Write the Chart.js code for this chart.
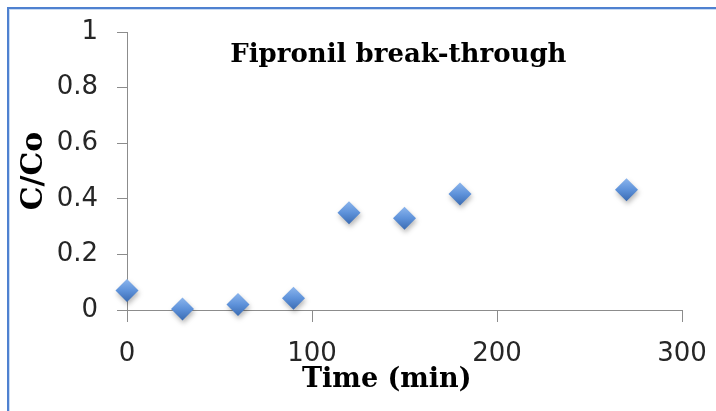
<!DOCTYPE html>
<html>
<head>
<meta charset="utf-8">
<script src="https://cdn.jsdelivr.net/npm/chart.js@4/dist/chart.umd.min.js"></script>
<style>
  html, body { margin: 0; padding: 0; background: #ffffff; }
  #wrap { width: 716px; height: 411px; }
</style>
</head>
<body>
<div id="wrap"><canvas id="c" width="716" height="411"></canvas></div>
<script>
const timeMin = [0, 30, 60, 90, 120, 150, 180, 270];
const cOverCo = [0.07, 0.004, 0.02, 0.042, 0.35, 0.33, 0.417, 0.433];
const xTicks = [0, 100, 200, 300];
const yTicks = [0, 0.2, 0.4, 0.6, 0.8, 1];
const yTickLabels = ['0', '0.2', '0.4', '0.6', '0.8', '1'];
const chartTitle = 'Fipronil break-through';
const xTitle = 'Time (min)';
const yTitle = 'C/Co';

const points = timeMin.map((t, i) => ({ x: t, y: cOverCo[i] }));

const framePlugin = {
  id: 'frame',
  beforeDraw(chart) {
    const ctx = chart.ctx;
    ctx.save();
    ctx.fillStyle = '#ffffff';
    ctx.fillRect(0, 0, chart.width, chart.height);
    ctx.fillStyle = '#4f81d0';
    ctx.fillRect(7, 7, chart.width - 7, 2);
    ctx.fillRect(7, 7, 2, chart.height - 7);
    ctx.fillStyle = '#c9dbf3';
    ctx.fillRect(9, 9, chart.width - 9, 1);
    ctx.fillRect(9, 9, 1, chart.height - 9);
    ctx.restore();
  },
  afterDraw(chart) {
    const ctx = chart.ctx;
    const ca = chart.chartArea;
    ctx.save();
    ctx.fillStyle = '#000000';
    ctx.textAlign = 'center';
    ctx.textBaseline = 'alphabetic';
    ctx.font = 'bold 26px "DejaVu Serif"';
    ctx.fillText(chartTitle, ca.left + (ca.right - ca.left) * 0.489, ca.top + 29.5);
    ctx.font = 'bold 27px "DejaVu Serif"';
    ctx.fillText(xTitle, ca.left + (ca.right - ca.left) * 0.468, ca.bottom + 77);
    ctx.restore();
  }
};

const shadowPlugin = {
  id: 'markerShadow',
  beforeDatasetDraw(chart) {
    const ctx = chart.ctx;
    ctx.save();
    ctx.shadowColor = 'rgba(0,0,0,0.28)';
    ctx.shadowBlur = 5;
    ctx.shadowOffsetX = 1;
    ctx.shadowOffsetY = 3;
  },
  afterDatasetDraw(chart) {
    chart.ctx.restore();
  }
};

function markerFill(context) {
  const fallback = '#5b8fd6';
  if (context.type !== 'data' || !context.parsed) return fallback;
  const chart = context.chart;
  const ys = chart.scales && chart.scales.y;
  if (!ys) return fallback;
  const py = ys.getPixelForValue(context.parsed.y);
  if (!isFinite(py)) return fallback;
  const g = chart.ctx.createLinearGradient(0, py - 11, 0, py + 11);
  g.addColorStop(0, '#8ab4ec');
  g.addColorStop(0.5, '#5e92da');
  g.addColorStop(1, '#3c6db4');
  return g;
}

new Chart(document.getElementById('c'), {
  type: 'scatter',
  data: {
    datasets: [{
      data: points,
      pointStyle: 'rectRot',
      pointRadius: 11.5,
      pointHoverRadius: 11.5,
      pointBackgroundColor: markerFill,
      pointBorderColor: 'rgba(0,0,0,0)',
      pointBorderWidth: 0,
      clip: false
    }]
  },
  options: {
    responsive: false,
    animation: false,
    devicePixelRatio: 1,
    layout: { padding: { left: 0, right: 34, top: 32, bottom: 0 } },
    plugins: {
      legend: { display: false },
      tooltip: { enabled: false },
      title: { display: false }
    },
    scales: {
      x: {
        type: 'linear',
        min: xTicks[0],
        max: xTicks[xTicks.length - 1],
        afterBuildTicks(scale) { scale.ticks = xTicks.map(v => ({ value: v })); },
        afterFit(scale) { scale.height = 101; scale.paddingLeft = 0; scale.paddingRight = 0; },
        grid: { drawOnChartArea: false, drawTicks: true, tickLength: 12, color: '#8c8c8c', lineWidth: 1 },
        border: { display: true, color: '#8c8c8c', width: 1 },
        ticks: {
          padding: 17,
          color: '#262626',
          font: { family: '"DejaVu Sans"', size: 26 },
          maxRotation: 0,
          autoSkip: false
        },
        title: { display: false }
      },
      y: {
        type: 'linear',
        min: yTicks[0],
        max: yTicks[yTicks.length - 1],
        afterBuildTicks(scale) { scale.ticks = yTicks.map(v => ({ value: v })); },
        afterFit(scale) { scale.width = 127; scale.paddingTop = 0; scale.paddingBottom = 0; },
        grid: { drawOnChartArea: false, drawTicks: true, tickLength: 10, color: '#8c8c8c', lineWidth: 1 },
        border: { display: true, color: '#8c8c8c', width: 1 },
        ticks: {
          padding: 19,
          color: '#262626',
          font: { family: '"DejaVu Sans"', size: 26 },
          autoSkip: false,
          callback: (value) => {
            const i = yTicks.indexOf(value);
            return i >= 0 ? yTickLabels[i] : String(value);
          }
        },
        title: {
          display: true,
          text: yTitle,
          color: '#000000',
          font: { family: '"DejaVu Serif"', size: 30, weight: 'bold' },
          padding: { top: 16, bottom: 0 }
        }
      }
    }
  },
  plugins: [framePlugin, shadowPlugin]
});
</script>
</body>
</html>
